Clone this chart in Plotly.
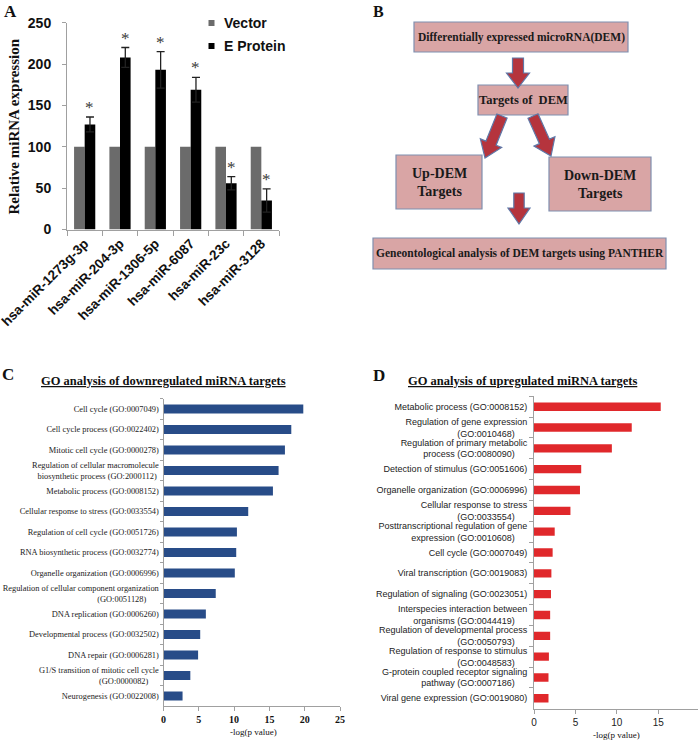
import plotly.graph_objects as go

# ---------------- data ----------------
mirnas = ["hsa-miR-1273g-3p", "hsa-miR-204-3p", "hsa-miR-1306-5p",
          "hsa-miR-6087", "hsa-miR-23c", "hsa-miR-3128"]
series_names = ["Vector", "E Protein"]
vector_vals = [100, 100, 100, 100, 100, 100]
eprotein_vals = [127, 208, 193, 169, 56, 35]
eprotein_err = [9, 12, 22, 15, 8, 14]
yA_ticks = [0, 50, 100, 150, 200, 250]

down_terms = [
    "Cell cycle (GO:0007049)",
    "Cell cycle process (GO:0022402)",
    "Mitotic cell cycle (GO:0000278)",
    "Regulation of cellular macromolecule<br>biosynthetic process (GO:2000112) ",
    "Metabolic process (GO:0008152)",
    "Cellular response to stress (GO:0033554)",
    "Regulation of cell cycle (GO:0051726)",
    "RNA biosynthetic process (GO:0032774)",
    "Organelle organization (GO:0006996)",
    "Regulation of cellular component organization<br>(GO:0051128)      ",
    "DNA replication (GO:0006260)",
    "Developmental process (GO:0032502)",
    "DNA repair (GO:0006281)",
    "G1/S transition of mitotic cell cycle<br>(GO:0000082)     ",
    "Neurogenesis (GO:0022008)",
]
down_vals = [19.8, 18.1, 17.2, 16.3, 15.5, 12.0, 10.4, 10.3, 10.1, 7.4, 6.0, 5.2, 4.9, 3.8, 2.7]
down_ticks = [0, 5, 10, 15, 20, 25]

up_terms = [
    "Metabolic process (GO:0008152)",
    "Regulation of gene expression<br>(GO:0010468)     ",
    "Regulation of primary metabolic<br>process (GO:0080090)     ",
    "Detection of stimulus (GO:0051606)",
    "Organelle organization (GO:0006996)",
    "Cellular response to stress<br>(GO:0033554)     ",
    "Posttranscriptional regulation of gene<br>expression (GO:0010608)     ",
    "Cell cycle (GO:0007049)",
    "Viral transcription (GO:0019083)",
    "Regulation of signaling (GO:0023051)",
    "Interspecies interaction between<br>organisms (GO:0044419)     ",
    "Regulation of developmental process<br>(GO:0050793)     ",
    "Regulation of response to stimulus<br>(GO:0048583)     ",
    "G-protein coupled receptor signaling<br>pathway (GO:0007186)     ",
    "Viral gene expression (GO:0019080)",
]
up_vals = [15.3, 11.8, 9.4, 5.7, 5.55, 4.4, 2.5, 2.25, 2.1, 2.05, 1.95, 1.95, 1.8, 1.75, 1.75]
up_ticks = [0, 5, 10, 15]

# ---------------- styles ----------------
W, H = 700, 742
GRAY_BAR = "#6b6b6b"
AXC = "#a0a0a0"
SERIF = "Liberation Serif"
SANS = "Liberation Sans"
BOX_FILL = "#d9a5a5"
BOX_LINE = "#7f8fb0"
ARROW_FILL = "#b5343d"
ARROW_LINE = "#5f78a8"


def px_x(a, b):
    return [a / W, b / W]


def px_y(top, bottom):
    return [(H - bottom) / H, (H - top) / H]


fig = go.Figure()

# ---------------- Panel A ----------------
fig.add_trace(go.Bar(x=mirnas, y=vector_vals, name=series_names[0], marker_color=GRAY_BAR,
                     marker_line_width=0, xaxis="x", yaxis="y", showlegend=False))
fig.add_trace(go.Bar(x=mirnas, y=eprotein_vals, name=series_names[1], marker_color="#000000",
                     marker_line_width=0, xaxis="x", yaxis="y", showlegend=False,
                     error_y=dict(type="data", array=eprotein_err, color="#222222",
                                  thickness=1.3, width=4)))

# asterisks above error bars
for m, v, e in zip(mirnas, eprotein_vals, eprotein_err):
    fig.add_annotation(x=m, y=v + e, xref="x", yref="y", text="*", showarrow=False,
                       xshift=5.3, yanchor="bottom", yshift=-2,
                       font=dict(family=SERIF, size=17, color="#3a3a3a"))

# ---------------- Panel C ----------------
fig.add_trace(go.Bar(y=down_terms, x=down_vals, orientation="h", marker_color="#284c88",
                     marker_line_width=0, width=0.44, xaxis="x2", yaxis="y2", showlegend=False))

# ---------------- Panel D ----------------
fig.add_trace(go.Bar(y=up_terms, x=up_vals, orientation="h", marker_color="#e0282b",
                     marker_line_width=0, width=0.4, xaxis="x3", yaxis="y3", showlegend=False))

# ---------------- layout ----------------
fig.update_layout(
    width=W, height=H, margin=dict(l=0, r=0, t=0, b=0, autoexpand=False),
    paper_bgcolor="white", plot_bgcolor="rgba(0,0,0,0)",
    barmode="group", bargap=0.4, bargroupgap=0.0,
    showlegend=False,
    xaxis=dict(domain=px_x(67, 279), anchor="y", type="category", automargin=False,
               showline=True, linecolor=AXC, linewidth=1,
               ticks="outside", tickson="boundaries", ticklen=5, tickcolor=AXC,
               tickangle=-45, tickfont=dict(family=SANS, size=13.5, color="#111", weight="bold"),
               showgrid=False, zeroline=False),
    yaxis=dict(domain=px_y(22.7, 229.5), anchor="x", range=[0, 250], tickvals=yA_ticks,
               automargin=False,
               showline=True, linecolor=AXC, linewidth=1,
               ticks="outside", ticklen=4, tickcolor=AXC, ticklabelstandoff=8,
               tickfont=dict(family=SANS, size=14, color="#111", weight="bold"),
               showgrid=False, zeroline=False),
    xaxis2=dict(domain=px_x(163.5, 340), anchor="y2", range=[0, 25], tickvals=down_ticks,
                automargin=False,
                showline=True, linecolor=AXC, linewidth=1,
                ticks="outside", ticklen=4, tickcolor=AXC,
                tickfont=dict(family=SERIF, size=10, color="#111", weight="bold"),
                showgrid=False, zeroline=False),
    yaxis2=dict(domain=px_y(398.75, 706.25), anchor="x2", type="category",
                range=[len(down_terms) - 0.5, -0.5], automargin=False,
                showline=True, linecolor=AXC, linewidth=1,
                ticks="outside", tickson="boundaries", ticklen=3, tickcolor=AXC,
                ticklabelstandoff=2,
                tickfont=dict(family=SERIF, size=8.4, color="#222"),
                showgrid=False, zeroline=False),
    xaxis3=dict(domain=px_x(534, 698), anchor="y3", range=[0, 19.8], tickvals=up_ticks,
                automargin=False,
                showline=True, linecolor=AXC, linewidth=1,
                ticks="outside", ticklen=4, tickcolor=AXC,
                tickfont=dict(family=SANS, size=10, color="#222"),
                showgrid=False, zeroline=False),
    yaxis3=dict(domain=px_y(396.3, 708.7), anchor="x3", type="category",
                range=[len(up_terms) - 0.5, -0.5], automargin=False,
                showline=True, linecolor=AXC, linewidth=1,
                ticks="outside", tickson="boundaries", ticklen=4, tickcolor=AXC,
                ticklabelstandoff=4,
                tickfont=dict(family=SANS, size=9, color="#222"),
                showgrid=False, zeroline=False),
    # hidden pixel-space axes for the diagram and free text
    xaxis4=dict(domain=[0, 1], anchor="y4", range=[0, W], visible=False, fixedrange=True,
                automargin=False),
    yaxis4=dict(domain=[0, 1], anchor="x4", range=[H, 0], visible=False, fixedrange=True,
                automargin=False),
)


def ann(x, y, text, size, family=SERIF, bold=False, **kw):
    fig.add_annotation(x=x, y=y, xref="x4", yref="y4", text=text, showarrow=False,
                       font=dict(family=family, size=size, color=kw.pop("color", "#111"),
                                 weight="bold" if bold else "normal"), **kw)


# Panel A: y title, legend
ann(13, 126.5, "Relative miRNA expression", 15, bold=True, textangle=-90)
legend_colors = [GRAY_BAR, "#000000"]
for i, (nm, col) in enumerate(zip(series_names, legend_colors)):
    yc = 23 + 23 * i
    fig.add_shape(type="rect", xref="x4", yref="y4", x0=208.5, x1=214.5, y0=yc - 3, y1=yc + 3,
                  fillcolor=col, line=dict(width=0))
    ann(222, yc, nm, 14, family=SANS, bold=True, xanchor="left")

# panel letters
ann(10, 11, "A", 17, bold=True)
ann(378, 11, "B", 16, bold=True)
ann(8, 374, "C", 17, bold=True)
ann(379, 375, "D", 17, bold=True)

# Panel C/D titles and axis titles
ann(163, 381, "<u>GO analysis of downregulated miRNA targets</u>", 12.5, bold=True)
ann(522, 381, "<u>GO analysis of upregulated miRNA targets</u>", 12.5, bold=True)
ann(253, 732, "-log(p value)", 9)
ann(616, 735, "-log(p value)", 9)

# ---------------- Panel B: flow diagram ----------------
boxes = [
    (414, 22, 628, 52, "Differentially expressed microRNA(DEM)", 11.5),
    (478, 85, 568, 115, "Targets of  DEM", 12.5),
    (396, 155, 482, 209, "Up-DEM<br>Targets", 14),
    (549, 157, 651, 211, "Down-DEM<br>Targets", 14),
    (373, 238, 666, 269, "Geneontological analysis of DEM targets using PANTHER", 11.5),
]
for x0, y0, x1, y1, txt, fs in boxes:
    fig.add_shape(type="rect", xref="x4", yref="y4", x0=x0, y0=y0, x1=x1, y1=y1,
                  fillcolor=BOX_FILL, line=dict(color=BOX_LINE, width=1.2))
    ann((x0 + x1) / 2, (y0 + y1) / 2, txt, fs, bold=True, color="#1a1a1a")


def arrow_path(xs, ys, xt, yt, sw, hw, hl):
    import math
    dx, dy = xt - xs, yt - ys
    L = math.hypot(dx, dy)
    ux, uy = dx / L, dy / L
    nx, ny = -uy, ux
    bx, by = xt - ux * hl, yt - uy * hl
    pts = [
        (xs + nx * sw, ys + ny * sw),
        (bx + nx * sw, by + ny * sw),
        (bx + nx * hw, by + ny * hw),
        (xt, yt),
        (bx - nx * hw, by - ny * hw),
        (bx - nx * sw, by - ny * sw),
        (xs - nx * sw, ys - ny * sw),
    ]
    return "M" + " L".join(f"{x:.2f},{y:.2f}" for x, y in pts) + " Z"


arrows = [
    (518, 58, 518, 88, 5.5, 11.5, 15),
    (502, 116, 485, 158, 5.5, 11.5, 16),
    (533, 116, 551, 156, 5.5, 11.5, 16),
    (519, 193, 519, 224, 5.2, 11, 16),
]
for a in arrows:
    fig.add_shape(type="path", xref="x4", yref="y4", path=arrow_path(*a),
                  fillcolor=ARROW_FILL, line=dict(color=ARROW_LINE, width=1.2))

fig.write_html("out.html", config={"displayModeBar": False},
               post_script="document.body.style.margin='0';document.body.style.overflow='hidden';")
